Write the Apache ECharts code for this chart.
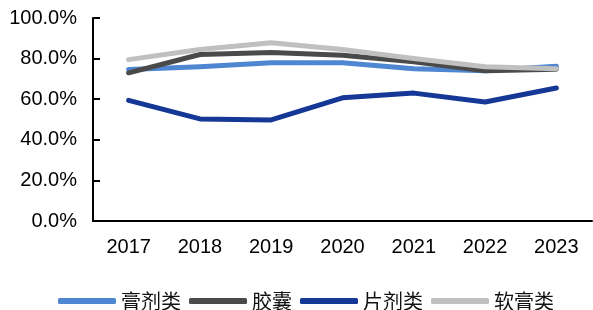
<!DOCTYPE html>
<html>
<head>
<meta charset="utf-8">
<script src="https://cdn.jsdelivr.net/npm/echarts@6/dist/echarts.min.js"></script>
<style>
  html, body { margin: 0; padding: 0; background: #fff; }
  #chart { width: 593px; height: 310px; }
</style>
</head>
<body>
<div id="chart"></div>
<script>
  // 年份
  const years = ['2017', '2018', '2019', '2020', '2021', '2022', '2023']
  // 各剂型数值（%）
  const gaoji = [74.6, 76.0, 77.9, 78.0, 75.0, 74.0, 76.2]
  const jiaonang = [73.0, 82.0, 83.0, 81.7, 78.4, 74.0, 74.8]
  const pianji = [59.4, 50.3, 49.8, 60.7, 63.0, 58.6, 65.5]
  const ruangao = [79.5, 84.5, 87.8, 84.5, 80.0, 76.0, 75.0]

  const axisStyle = {color: '#000', width: 2}
  const font = 'Arial, "Liberation Sans", sans-serif'

  function makeLine(name, data, color) {
    return {
      name: name,
      type: 'line',
      data: data,
      symbol: 'none',
      color: color,
      lineStyle: {width: 5, color: color, cap: 'round', join: 'round'},
      animation: false
    }
  }

  const chart = echarts.init(document.getElementById('chart'))
  chart.setOption({
    animation: false,
    grid: {left: 93, right: 1, top: 18, bottom: 89},
    legend: {
      left: 53,
      top: 286,
      icon: 'roundRect',
      itemWidth: 58,
      itemHeight: 6,
      itemGap: 8,
      textStyle: {fontSize: 20, color: '#111', fontFamily: '"Noto Sans CJK SC", sans-serif'},
      data: ['膏剂类', '胶囊', '片剂类', '软膏类']
    },
    xAxis: {
      type: 'category',
      data: years,
      boundaryGap: true,
      axisLine: {lineStyle: axisStyle},
      axisTick: {inside: true, length: 7, lineStyle: axisStyle},
      axisLabel: {fontSize: 20, color: '#000', margin: 16, fontFamily: font}
    },
    yAxis: {
      type: 'value',
      min: 0,
      max: 100,
      interval: 20,
      splitLine: {show: false},
      axisLine: {show: true, lineStyle: axisStyle},
      axisTick: {show: true, inside: true, length: 7, lineStyle: axisStyle},
      axisLabel: {
        fontSize: 20, color: '#000', margin: 16, fontFamily: font,
        formatter: v => v.toFixed(1) + '%'
      }
    },
    series: [
      makeLine('膏剂类', gaoji, '#4f86d2'),
      makeLine('胶囊', jiaonang, '#4a4a4a'),
      makeLine('片剂类', pianji, '#153795'),
      makeLine('软膏类', ruangao, '#c0c0c0')
    ]
  })
</script>
</body>
</html>
